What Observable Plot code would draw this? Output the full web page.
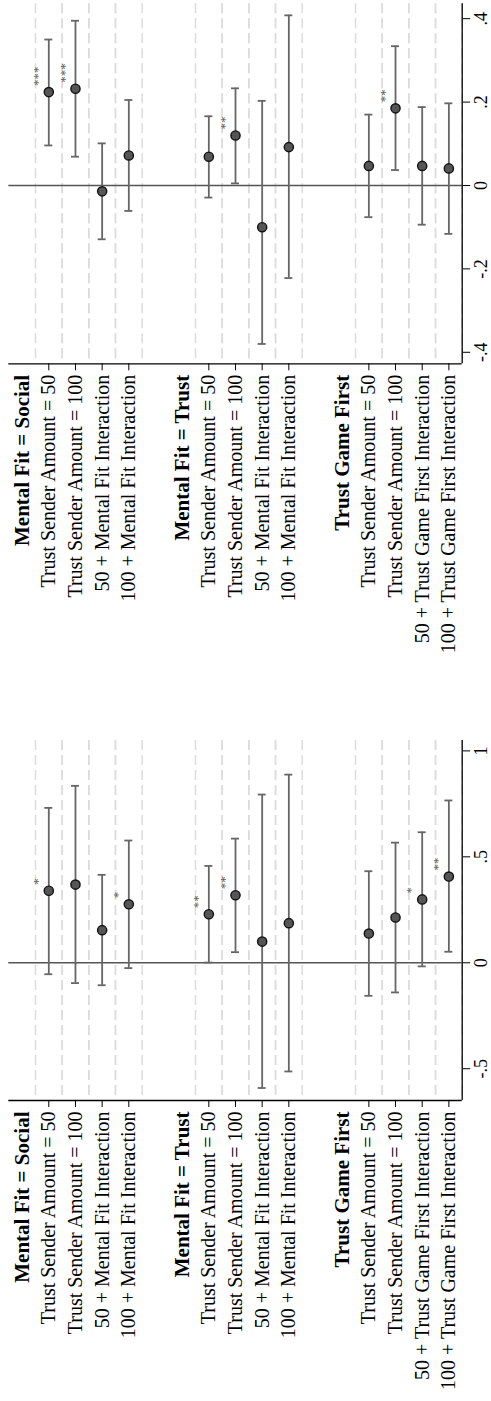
<!DOCTYPE html>
<html>
<head>
<meta charset="utf-8">
<script src="https://cdn.jsdelivr.net/npm/d3@7"></script>
<script src="https://cdn.jsdelivr.net/npm/@observablehq/plot@0.6"></script>
<style>
  html, body { margin: 0; padding: 0; background: #fff; }
  #chart svg { display: block; }
</style>
</head>
<body>
<div id="chart"></div>
<script>
// ---- Categories ----
const groupTitles = ["Mental Fit = Social", "Mental Fit = Trust", "Trust Game First"];
const mentalFitTerms = ["Trust Sender Amount = 50", "Trust Sender Amount = 100", "50 + Mental Fit Interaction", "100 + Mental Fit Interaction"];
const gameOrderTerms = ["Trust Sender Amount = 50", "Trust Sender Amount = 100", "50 + Trust Game First Interaction", "100 + Trust Game First Interaction"];
const groupTerms = [mentalFitTerms, mentalFitTerms, gameOrderTerms];

// ---- Upper panel ----
const upperCoef  = [0.224, 0.232, -0.014, 0.072, 0.069, 0.120, -0.100, 0.092, 0.047, 0.185, 0.047, 0.041];
const upperLow   = [0.096, 0.069, -0.129, -0.061, -0.029, 0.005, -0.380, -0.222, -0.076, 0.037, -0.094, -0.116];
const upperHigh  = [0.350, 0.395, 0.101, 0.205, 0.166, 0.233, 0.203, 0.408, 0.170, 0.334, 0.188, 0.197];
const upperStars = ["***", "***", "", "", "", "**", "", "", "", "**", "", ""];
const upperTicks = [-0.4, -0.2, 0, 0.2, 0.4];
const upperRange = [-0.4276, 0.4357];

// ---- Lower panel ----
const lowerCoef  = [0.340, 0.369, 0.154, 0.276, 0.229, 0.319, 0.100, 0.187, 0.138, 0.214, 0.299, 0.407];
const lowerLow   = [-0.054, -0.096, -0.106, -0.025, 0.001, 0.050, -0.591, -0.513, -0.156, -0.140, -0.017, 0.052];
const lowerHigh  = [0.731, 0.835, 0.415, 0.577, 0.457, 0.586, 0.794, 0.888, 0.432, 0.567, 0.616, 0.766];
const lowerStars = ["*", "", "", "*", "**", "**", "", "", "", "", "*", "**"];
const lowerTicks = [-0.5, 0, 0.5, 1];
const lowerRange = [-0.65, 1.049];

const fmt = d => d === 0 ? "0" : String(d).replace("0.", ".");

function buildRows(coef, low, high, stars) {
  const items = [], headers = [];
  let slot = 0, k = 0;
  groupTitles.forEach((title, g) => {
    headers.push({slot, title});
    slot++;
    groupTerms[g].forEach(term => {
      items.push({slot, term, coef: coef[k], low: low[k], high: high[k], stars: stars[k]});
      slot++; k++;
    });
    slot++; // spacer between groups
  });
  return {items, headers, nSlots: slot - 1};
}

function panel({coef, low, high, stars, ticks, range, height, marginTop, marginBottom}) {
  const {items, headers, nSlots} = buildRows(coef, low, high, stars);
  const xDomain = [-0.5, nSlots - 0.5];
  const labelOf = new Map(items.map(d => [d.slot, d.term]));
  return Plot.plot({
    width: 491,
    height,
    marginLeft: 8.3,
    marginRight: 29.3,
    marginTop,
    marginBottom,
    style: {fontFamily: "'Liberation Serif', 'DejaVu Serif', serif", fontSize: "20px", color: "#000", background: "#fff"},
    x: {domain: xDomain, label: null},
    y: {domain: range, label: null},
    marks: [
      // dashed separators around every term
      Plot.ruleX(items.flatMap(d => [d.slot - 0.5, d.slot + 0.5]), {stroke: "#dcdcdc", strokeWidth: 1.5, strokeDasharray: "10,5"}),
      // zero reference line
      Plot.ruleY([0], {stroke: "#555", strokeWidth: 1.6}),
      // confidence intervals
      Plot.ruleX(items, {x: "slot", y1: "low", y2: "high", stroke: "#666", strokeWidth: 1.8}),
      Plot.ruleY(items, {y: "low", x1: d => d.slot - 0.15, x2: d => d.slot + 0.15, stroke: "#666", strokeWidth: 1.8}),
      Plot.ruleY(items, {y: "high", x1: d => d.slot - 0.15, x2: d => d.slot + 0.15, stroke: "#666", strokeWidth: 1.8}),
      // point estimates
      Plot.dot(items, {x: "slot", y: "coef", r: 4.6, fill: "#555", stroke: "#111", strokeWidth: 1.4}),
      // significance stars
      Plot.text(items.filter(d => d.stars), {x: "slot", y: "coef", text: "stars", rotate: -90, textAnchor: "start", lineAnchor: "middle", dx: -11, dy: -6, fontSize: 13, fill: "#555"}),
      // axis lines
      Plot.ruleY([range[0]], {stroke: "#000", strokeWidth: 1.3}),
      Plot.ruleX([xDomain[1]], {stroke: "#000", strokeWidth: 1.3}),
      // term labels
      Plot.axisX(items.map(d => d.slot), {anchor: "bottom", tickSize: 7, tickPadding: 4, tickRotate: -90, textAnchor: "end", lineAnchor: "middle", tickFormat: s => labelOf.get(s), label: null, fontSize: 20}),
      // group headers
      Plot.text(headers, {x: "slot", text: "title", frameAnchor: "bottom", dy: 11, rotate: -90, textAnchor: "end", lineAnchor: "middle", fontWeight: "bold", fontSize: 21, fill: "#000"}),
      // value axis
      Plot.axisY(ticks, {anchor: "right", tickSize: 7.5, tickPadding: 17, tickRotate: -90, textAnchor: "middle", lineAnchor: "bottom", tickFormat: fmt, label: null, fontSize: 18})
    ]
  });
}

const chart = document.getElementById("chart");
chart.appendChild(panel({coef: upperCoef, low: upperLow, high: upperHigh, stars: upperStars, ticks: upperTicks, range: upperRange, height: 700, marginTop: 3.3, marginBottom: 336.7}));
chart.appendChild(panel({coef: lowerCoef, low: lowerLow, high: lowerHigh, stars: lowerStars, ticks: lowerTicks, range: lowerRange, height: 701, marginTop: 40, marginBottom: 301}));
</script>
</body>
</html>
